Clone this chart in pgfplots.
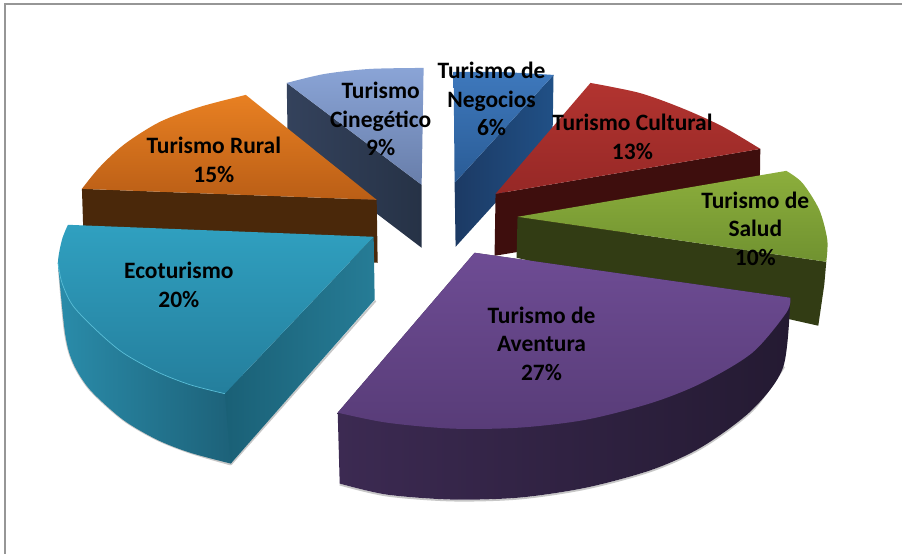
\documentclass[border=0pt]{standalone}
\usepackage{fontspec}
\setmainfont{Carlito}
\usepackage{pgfplots}
\pgfplotsset{compat=1.18}

\definecolor{frameg}{RGB}{150,150,150}

\tikzset{
  lab/.style={font=\fontsize{23.5}{28.5}\selectfont\bfseries, align=center, text=black, inner sep=0pt},
}
\pgfplotsset{
  soft/.style={draw=black!22, line width=1.8pt, no marks, forget plot, smooth},
  edge/.style={no marks, forget plot, line width=0.7pt, smooth},
}

\begin{document}
\begin{tikzpicture}
\begin{axis}[
  scale only axis,
  width=903pt, height=554pt,
  xmin=0, xmax=903, ymin=0, ymax=554,
  y dir=reverse,
  axis lines=none,
  clip=false,
]
% page area and chart frame
\addplot[draw=none, fill=white, no marks] coordinates {(0,0)(903,0)(903,554)(0,554)} --cycle;
\addplot[draw=frameg, line width=1.6pt, no marks] coordinates {(5,554)(5,4)(903,4)};

% Cinegetico 9%
\addplot[draw=none, no marks, left color={rgb,255:red,52;green,66;blue,92}, right color={rgb,255:red,38;green,50;blue,70}]
  coordinates {(287,83)(422,185)(422,248)(288,146)} --cycle;
\addplot[draw=none, no marks, smooth, top color={rgb,255:red,138;green,164;blue,214}, bottom color={rgb,255:red,104;green,126;blue,170}]
  coordinates {(287,83)(325,74)(370,69)(424,68)} -- (axis cs:422,185) --cycle;

% Negocios 6%
\addplot[draw=none, no marks, left color={rgb,255:red,28;green,58;blue,100}, right color={rgb,255:red,32;green,80;blue,134}]
  coordinates {(554,75)(455,183)(456,247)(553,140)} --cycle;
\addplot[draw=none, no marks, smooth, top color={rgb,255:red,62;green,120;blue,188}, bottom color={rgb,255:red,42;green,92;blue,150}]
  coordinates {(454,72)(500,72)(554,75)} -- (axis cs:455,183) --cycle;

% Cultural 13%
\addplot[draw=none, no marks, fill={rgb,255:red,62;green,14;blue,13}]
  coordinates {(496,194)(761,149)(760,212)(495,256)} --cycle;
\addplot[draw=none, no marks, smooth, top color={rgb,255:red,178;green,52;blue,48}, bottom color={rgb,255:red,150;green,40;blue,38}]
  coordinates {(591,83)(640,93)(682,108)(722,126)(761,149)} -- (axis cs:496,194) --cycle;

% Salud 10%
\addplot[draw=none, no marks, fill={rgb,255:red,50;green,60;blue,20}]
  coordinates {(518,217)(827,262)(825,285)(819,326)(517,258)} --cycle;
\addplot[draw=none, no marks, smooth, top color={rgb,255:red,140;green,174;blue,60}, bottom color={rgb,255:red,112;green,146;blue,48}]
  coordinates {(787,171)(803,183)(820,210)(828,240)(827,262)} -- (axis cs:518,217) --cycle;

% Rural 15%
\addplot[draw=none, no marks, fill={rgb,255:red,74;green,40;blue,10}]
  coordinates {(82,189)(377,200)(378,263)(84,250)} --cycle;
\addplot[draw=none, no marks, smooth, top color={rgb,255:red,232;green,128;blue,34}, bottom color={rgb,255:red,186;green,94;blue,22}]
  coordinates {(246,95)(200,107)(160,122)(125,144)(100,167)(82,189)} -- (axis cs:377,200) --cycle;

% Ecoturismo 20%
\addplot[soft] coordinates {(59,270)(65,333)(73,363)(90,390)(123,420)(157,440)(190,453)(231,465)};
\addplot[no marks, draw=black!22, line width=1.8pt, forget plot] coordinates {(231,465)(376,301)};
\addplot[draw=none, no marks, smooth, left color={rgb,255:red,42;green,140;blue,170}, right color={rgb,255:red,26;green,88;blue,110}]
  coordinates {(58,263)(65,333)(73,363)(90,390)(123,420)(157,440)(190,453)(231,464)} -- (axis cs:270,400) -- (axis cs:150,300) --cycle;
\addplot[draw=none, no marks, left color={rgb,255:red,26;green,96;blue,118}, right color={rgb,255:red,38;green,124;blue,150}]
  coordinates {(374,237)(225,394)(231,464)(375,300)} --cycle;
\addplot[draw=none, no marks, smooth, top color={rgb,255:red,48;green,160;blue,192}, bottom color={rgb,255:red,36;green,126;blue,156}]
  coordinates {(225,394)(190,385)(157,372)(123,353)(97,331)(73,306)(62,283)(58,263)(62,240)(68,225)} -- (axis cs:374,237) --cycle;
\addplot[edge, draw={rgb,255:red,90;green,190;blue,215}]
  coordinates {(225,394)(190,385)(157,372)(123,353)(97,331)(73,306)(62,283)(58,263)};

% Aventura 27%
\addplot[soft] coordinates {(340,485)(387,496)(453,501)(520,499)(587,489)(653,471)(703,448)(753,411)(785,367)};
\addplot[draw=none, no marks, smooth, left color={rgb,255:red,60;green,42;blue,82}, right color={rgb,255:red,36;green,26;blue,50}]
  coordinates {(340,484)(387,495)(453,500)(520,498)(587,488)(653,470)(703,447)(753,410)(784,367)(791,298)} -- (axis cs:475,253) -- (axis cs:338,413) --cycle;
\addplot[draw=none, no marks, smooth, top color={rgb,255:red,110;green,76;blue,148}, bottom color={rgb,255:red,88;green,60;blue,120}]
  coordinates {(791,298)(787,313)(753,353)(703,383)(653,403)(587,420)(520,428)(453,429)(387,423)(338,413)} -- (axis cs:475,253) --cycle;

% labels
\node[lab] at (axis cs:492,99) {Turismo de\\Negocios\\6\%};
\node[lab] at (axis cs:633,137) {Turismo Cultural\\13\%};
\node[lab] at (axis cs:756,229) {Turismo de\\Salud\\10\%};
\node[lab] at (axis cs:542,344) {Turismo de\\Aventura\\27\%};
\node[lab] at (axis cs:179,285) {Ecoturismo\\20\%};
\node[lab] at (axis cs:214,160) {Turismo Rural\\15\%};
\node[lab] at (axis cs:381,119) {Turismo\\Cinegético\\9\%};
\end{axis}
\end{tikzpicture}
\end{document}
